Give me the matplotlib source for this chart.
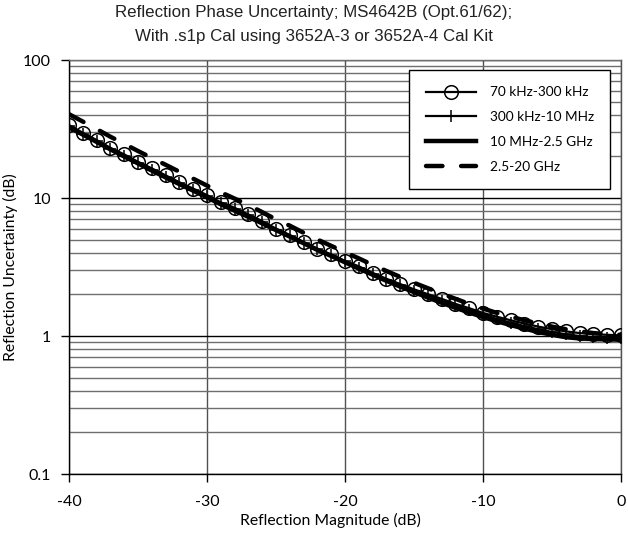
import matplotlib
matplotlib.use("Agg")
import matplotlib.pyplot as plt
from matplotlib.ticker import LogLocator, FixedLocator, NullFormatter

# ---- data ----
x_db = list(range(-40, 1))
labels = ["70 kHz-300 kHz", "300 kHz-10 MHz", "10 MHz-2.5 GHz", "2.5-20 GHz"]
s_70k = [33.8, 29.7, 26.3, 23.1, 20.7, 18.3, 16.4, 14.6, 13.0, 11.7, 10.5, 9.3, 8.5, 7.6,
         6.8, 6.0, 5.4, 4.8, 4.3, 3.9, 3.5, 3.2, 2.87, 2.6, 2.38, 2.18, 2.01, 1.86, 1.71,
         1.59, 1.47, 1.38, 1.3, 1.23, 1.17, 1.12, 1.08, 1.05, 1.03, 1.02, 1.01]
s_300k = [33.0, 29.2, 25.8, 22.8, 20.3, 18.0, 16.0, 14.3, 12.8, 11.5, 10.3, 9.2, 8.3, 7.5,
          6.7, 5.9, 5.3, 4.75, 4.25, 3.85, 3.47, 3.13, 2.83, 2.56, 2.33, 2.13, 1.96, 1.8,
          1.66, 1.54, 1.43, 1.33, 1.25, 1.18, 1.12, 1.07, 1.03, 1.0, 0.98, 0.97, 0.96]
s_10M = [32.5, 28.8, 25.5, 22.5, 20.0, 17.8, 15.8, 14.1, 12.6, 11.3, 10.1, 9.0, 8.1, 7.3,
         6.55, 5.85, 5.25, 4.7, 4.2, 3.8, 3.42, 3.08, 2.78, 2.51, 2.28, 2.08, 1.9, 1.74,
         1.6, 1.48, 1.37, 1.28, 1.2, 1.13, 1.07, 1.02, 0.98, 0.96, 0.95, 0.945, 0.94]
s_2G5 = [40.5, 35.8, 31.6, 27.8, 24.7, 21.9, 19.5, 17.4, 15.5, 13.8, 12.3, 11.0, 9.9, 8.9,
         7.9, 7.0, 6.3, 5.6, 5.0, 4.5, 4.05, 3.65, 3.28, 2.96, 2.68, 2.43, 2.22, 2.03,
         1.86, 1.71, 1.58, 1.47, 1.38, 1.3, 1.23, 1.17, 1.12, 1.08, 1.05, 1.03, 1.02]
x_ticks = [-40, -30, -20, -10, 0]
y_ticks = [0.1, 1, 10, 100]
y_ticklabels = ["0.1", "1", "10", "100"]

title_1 = "Reflection Phase Uncertainty; MS4642B (Opt.61/62);"
title_2 = "With .s1p Cal using 3652A-3 or 3652A-4 Cal Kit"

lab_font = "Lato"

fig = plt.figure(figsize=(6.28, 5.35), dpi=100)
ax = fig.add_axes([69 / 628, 1 - 474 / 535, (621 - 69) / 628, (474 - 60) / 535])

ax.set_yscale("log")
ax.set_xlim(-40, 0)
ax.set_ylim(0.1, 100)

# grids
ax.set_xticks(x_ticks)
ax.xaxis.set_minor_locator(FixedLocator([]))
ax.yaxis.set_major_locator(FixedLocator(y_ticks))
ax.yaxis.set_minor_locator(LogLocator(base=10, subs=range(2, 10)))
ax.yaxis.set_minor_formatter(NullFormatter())
ax.grid(True, which="major", axis="y", color="black", lw=1.0, zorder=0)
ax.grid(True, which="minor", axis="y", color="#6e6e6e", lw=1.0, zorder=0)
ax.grid(True, which="major", axis="x", color="#505050", lw=1.0, zorder=0)
ax.set_axisbelow(True)

for sp in ax.spines.values():
    sp.set_color("black")
    sp.set_linewidth(1.0)
ax.spines["top"].set_color("#6e6e6e")
ax.spines["right"].set_color("#505050")

ax.tick_params(axis="x", which="major", direction="out", length=6, width=1,
               colors="black", labelsize=11.5, pad=9)
ax.tick_params(axis="y", which="major", direction="out", length=6, width=1,
               colors="black", labelsize=11.5, pad=7)
ax.tick_params(axis="y", which="minor", length=0)
ax.set_yticklabels(y_ticklabels)
ax.set_xticklabels([str(v) for v in x_ticks])
for t in ax.get_xticklabels() + ax.get_yticklabels():
    t.set_fontfamily(lab_font)

# series
ax.plot(x_db, s_70k, color="black", lw=1.6, marker="o", ms=9.8, mfc="none",
        mec="black", mew=1.1, label=labels[0], zorder=3)
ax.plot(x_db, s_300k, color="black", lw=1.6, marker="+", ms=8, mew=1.1,
        label=labels[1], zorder=3)
ax.plot(x_db, s_10M, color="black", lw=3.2, label=labels[2], zorder=4)
ld, = ax.plot(x_db, s_2G5, color="black", lw=3.2, label=labels[3], zorder=5)
ld.set_linestyle((0, (3.7, 4.2)))
ld.set_dash_capstyle("round")

leg = ax.legend(loc="upper right", bbox_to_anchor=(1 - 11 / 552, 1 - 10 / 414),
                frameon=True, fancybox=False, edgecolor="black", framealpha=1,
                prop={"family": lab_font, "size": 9.8}, handlelength=3.7,
                handletextpad=1.0, labelspacing=0.94, borderpad=1.2,
                borderaxespad=0)
leg.get_frame().set_linewidth(1.0)

ax.set_xlabel("Reflection Magnitude (dB)", fontfamily=lab_font, fontsize=11.3)
ax.xaxis.set_label_coords((330 - 69) / 552, -(513 - 474) / 414)
ax.set_ylabel("Reflection Uncertainty (dB)", fontfamily=lab_font, fontsize=11.3)
ax.yaxis.set_label_coords(-(69 - 18) / 552, 0.5)

fig.text(0.5, 1 - 13 / 535, title_1, ha="center", va="center",
         fontfamily="Liberation Sans", fontsize=12.2, color="#222222")
fig.text(0.5, 1 - 37 / 535, title_2, ha="center", va="center",
         fontfamily="Liberation Sans", fontsize=12.2, color="#222222")

fig.savefig("out.png", dpi=100)
